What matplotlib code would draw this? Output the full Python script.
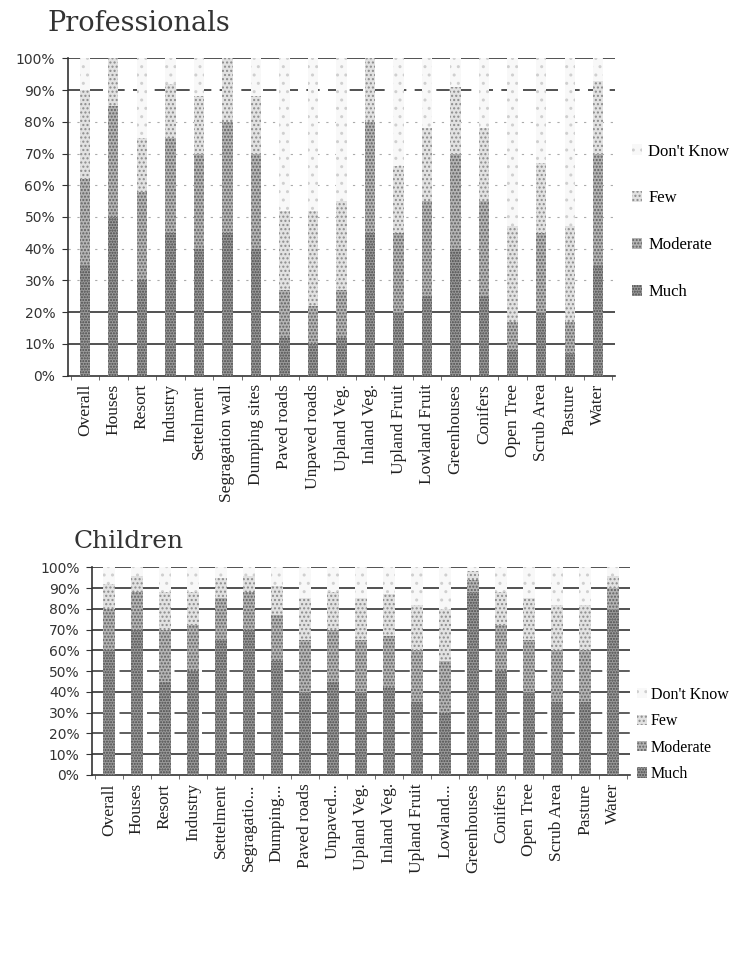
import matplotlib
matplotlib.use("Agg")
import matplotlib.pyplot as plt
from matplotlib.patches import Patch
import numpy as np

# Categories for each panel
prof_categories = ["Overall", "Houses", "Resort", "Industry", "Settelment",
                   "Segragation wall", "Dumping sites", "Paved roads", "Unpaved roads",
                   "Upland Veg.", "Inland Veg.", "Upland Fruit", "Lowland Fruit",
                   "Greenhouses", "Conifers", "Open Tree", "Scrub Area", "Pasture", "Water"]
child_categories = ["Overall", "Houses", "Resort", "Industry", "Settelment",
                    "Segragatio...", "Dumping...", "Paved roads", "Unpaved...",
                    "Upland Veg.", "Inland Veg.", "Upland Fruit", "Lowland...",
                    "Greenhouses", "Conifers", "Open Tree", "Scrub Area", "Pasture", "Water"]

series_names = ["Much", "Moderate", "Few", "Don't Know"]

# Professionals (% of responses)
prof_much     = [35, 50, 30, 45, 40, 45, 40, 12, 10, 12, 45, 20, 25, 40, 25,  8, 20,  7, 35]
prof_moderate = [27, 35, 28, 30, 30, 35, 30, 15, 12, 15, 35, 25, 30, 30, 30,  9, 25, 10, 35]
prof_few      = [28, 15, 17, 17, 18, 20, 18, 25, 30, 28, 20, 21, 23, 21, 23, 30, 22, 30, 23]
prof_dontknow = [10,  0, 25,  8, 12,  0, 12, 48, 48, 45,  0, 34, 22,  9, 22, 53, 33, 53,  7]

# Children (% of responses)
child_much     = [60, 70, 45, 50, 65, 70, 55, 40, 45, 40, 42, 35, 30, 88, 50, 40, 35, 35, 80]
child_moderate = [20, 18, 25, 22, 20, 18, 22, 25, 25, 25, 25, 25, 25,  6, 22, 25, 25, 25, 10]
child_few      = [12,  8, 18, 16, 10,  8, 14, 20, 18, 20, 20, 22, 25,  4, 16, 20, 22, 22,  6]
child_dontknow = [ 8,  4, 12, 12,  5,  4,  9, 15, 12, 15, 13, 18, 20,  2, 12, 15, 18, 18,  4]

y_ticks = list(range(0, 101, 10))
y_ticklabels = [f"{v}%" for v in y_ticks]

# stippled grey fills: (face, dot colour, hatch)
styles = {
    "Much":       ("#9a9a9a", "#4a4a4a", "......"),
    "Moderate":   ("#b4b4b4", "#606060", "....."),
    "Few":        ("#e2e2e2", "#8c8c8c", "...."),
    "Don't Know": ("#f8f8f8", "#cfcfcf", ".."),
}

serif = ["Liberation Serif", "DejaVu Serif"]
fig = plt.figure(figsize=(7.36, 9.73), dpi=100)


def draw_panel(ax, cats, data, width, grid_styles):
    x = np.arange(len(cats))
    bottom = np.zeros(len(cats))
    for name, vals in zip(series_names, data):
        face, dots, hatch = styles[name]
        ax.bar(x, vals, width, bottom=bottom, color=face, edgecolor=dots,
               hatch=hatch, linewidth=0, zorder=3)
        bottom += np.array(vals)
    for lvl, ls in zip(y_ticks, grid_styles):
        if ls is None:
            continue
        style, lw, col = ls
        ax.axhline(lvl, color=col, linestyle=style, linewidth=lw, zorder=2)
    ax.set_xlim(-0.6, len(cats) - 0.4)
    ax.set_ylim(0, 100)
    ax.set_yticks(y_ticks)
    ax.set_yticklabels(y_ticklabels, fontfamily="DejaVu Sans", fontsize=10, color="#333333")
    ax.set_xticks(x)
    ax.set_xticklabels(cats, rotation=90, fontfamily=serif, fontsize=12.5, color="#222222")
    ax.tick_params(axis="x", length=0, pad=6)
    ax.set_xticks(np.arange(-0.5, len(cats)), minor=True)
    ax.tick_params(axis="x", which="minor", length=3, color="#555555")
    ax.tick_params(axis="y", length=4, color="#333333", pad=5)
    for s in ("top", "right"):
        ax.spines[s].set_visible(False)
    for s in ("left", "bottom"):
        ax.spines[s].set_color("#333333")
        ax.spines[s].set_linewidth(1.2)


legend_handles = [Patch(facecolor=styles[n][0], edgecolor=styles[n][1], hatch=styles[n][2],
                        linewidth=0, label=n) for n in reversed(series_names)]

# --- Professionals ---
ax1 = fig.add_axes([0.092, 0.614, 0.744, 0.326])
solid = ("-", 1.2, "#333333")
dashed = ((0, (8, 5)), 1.2, "#333333")
dotted = ((0, (2, 6)), 0.8, "#aaaaaa")
prof_grid = [None, solid, solid, dotted, dotted, dotted, dotted, dotted, dotted, dashed, solid]
draw_panel(ax1, prof_categories,
           [prof_much, prof_moderate, prof_few, prof_dontknow], 0.36, prof_grid)
fig.text(0.065, 0.976, "Professionals", fontfamily=["DejaVu Serif"], fontsize=19.5,
         color="#333333", va="center")
fig.legend(handles=legend_handles, loc="center left", bbox_to_anchor=(0.838, 0.772),
           frameon=False, prop={"family": serif, "size": 12}, labelspacing=1.85,
           handlelength=0.6, handleheight=0.6, handletextpad=0.4)

# --- Children ---
ax2 = fig.add_axes([0.125, 0.2035, 0.731, 0.2135])
dashdot = ((0, (10, 3, 2, 3)), 1.1, "#333333")
child_grid = [None, solid, dashdot, dashdot, solid, dashdot, solid, solid, solid, solid, solid]
draw_panel(ax2, child_categories,
           [child_much, child_moderate, child_few, child_dontknow], 0.42, child_grid)
fig.text(0.1, 0.443, "Children", fontfamily=["DejaVu Serif"], fontsize=18,
         color="#333333", va="center")
fig.legend(handles=legend_handles, loc="center left", bbox_to_anchor=(0.846, 0.245),
           frameon=False, prop={"family": serif, "size": 11.5}, labelspacing=0.65,
           handlelength=0.6, handleheight=0.6, handletextpad=0.25)

fig.savefig("out.png", dpi=100, facecolor="white")
